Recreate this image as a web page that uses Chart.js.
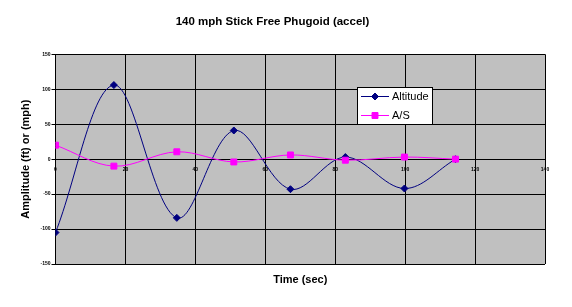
<!DOCTYPE html>
<html>
<head>
<meta charset="utf-8">
<title>140 mph Stick Free Phugoid (accel)</title>
<script src="https://cdn.jsdelivr.net/npm/chart.js"></script>
<style>
    body { margin: 0; background: #ffffff; }
    canvas { display: block; }
</style>
</head>
<body>
<canvas id="grafico" width="572" height="307"></canvas>
<script>
// dados
const timeSec = [0, 16.7, 34.7, 51, 67.2, 82.9, 99.8, 114.4];
const altitude = [-105, 106, -84, 41, -43, 3, -42, 0];
const airSpeed = [20, -10, 10.5, -4, 6, -1.5, 3, 0];
const seriesNames = ['Altitude', 'A/S'];
const xTicks = [0, 20, 40, 60, 80, 100, 120, 140];
const yTicks = [-150, -100, -50, 0, 50, 100, 150];

const fonte = 'Arial, "Liberation Sans", sans-serif';

function toPoints(xs, ys){
    return xs.map((x, i) => ({x: x, y: ys[i]}));
}

// fundo cinza da area do grafico
const plotBackground = {
    id: 'plotBackground',
    beforeDraw(chart){
        const {ctx, chartArea: a} = chart;
        ctx.save();
        ctx.fillStyle = '#c0c0c0';
        ctx.fillRect(a.left, a.top, a.right - a.left, a.bottom - a.top);
        ctx.restore();
    }
};

// legenda no estilo do excel (caixa branca com linha + marcador)
const excelLegend = {
    id: 'excelLegend',
    afterDatasetsDraw(chart){
        const ctx = chart.ctx;
        const bx = 357.5, by = 87.5, bw = 75, bh = 37;
        ctx.save();
        ctx.fillStyle = '#ffffff';
        ctx.fillRect(bx, by, bw, bh);
        ctx.strokeStyle = '#000000';
        ctx.lineWidth = 1;
        ctx.strokeRect(bx, by, bw, bh);
        chart.data.datasets.forEach((ds, i) => {
            const y = 96.5 + i * 19;
            ctx.strokeStyle = ds.borderColor;
            ctx.beginPath();
            ctx.moveTo(361, y);
            ctx.lineTo(389, y);
            ctx.stroke();
            ctx.fillStyle = ds.pointBackgroundColor;
            ctx.strokeStyle = ds.pointBorderColor;
            Chart.helpers.drawPoint(ctx, {
                pointStyle: ds.pointStyle,
                radius: ds.pointRadius,
                borderWidth: 1
            }, 375, y);
            ctx.fillStyle = '#000000';
            ctx.font = '11px ' + fonte;
            ctx.textBaseline = 'middle';
            ctx.textAlign = 'left';
            ctx.fillText(ds.label, 392, y);
        });
        ctx.restore();
    }
};

const ctxGrafico = document.getElementById('grafico');
let chart = new Chart(ctxGrafico, {
    type: 'line',
    data: {
        datasets: [
            {
                label: seriesNames[0],
                data: toPoints(timeSec, altitude),
                borderColor: '#000080',
                backgroundColor: '#000080',
                pointBackgroundColor: '#000080',
                pointBorderColor: '#000080',
                pointStyle: 'rectRot',
                pointRadius: 3.5,
                borderWidth: 1,
                tension: 0.35,
                order: 1,
                xAxisID: 'x',
                yAxisID: 'y'
            },
            {
                label: seriesNames[1],
                data: toPoints(timeSec, airSpeed),
                borderColor: '#ff00ff',
                backgroundColor: '#ff00ff',
                pointBackgroundColor: '#ff00ff',
                pointBorderColor: '#ff00ff',
                pointStyle: 'rect',
                pointRadius: 4.2,
                borderWidth: 1,
                tension: 0.35,
                order: 0,
                xAxisID: 'x',
                yAxisID: 'y'
            }
        ]
    },
    options: {
        responsive: false,
        animation: false,
        layout: {
            padding: {left: 0, right: 27, top: 0, bottom: 0}
        },
        plugins: {
            legend: { display: false },
            tooltip: { enabled: false },
            title: {
                display: true,
                text: '140 mph Stick Free Phugoid (accel)',
                color: '#000000',
                font: { family: fonte, size: 11.5, weight: 'bold' },
                padding: { top: 15, bottom: 25.5 }
            }
        },
        scales: {
            x: {
                type: 'linear',
                position: 'bottom',
                min: xTicks[0],
                max: xTicks[xTicks.length - 1],
                afterBuildTicks(scale){
                    scale.ticks = xTicks.map(v => ({value: v}));
                },
                ticks: { display: false },
                grid: { color: '#000000', lineWidth: 1, drawTicks: false },
                border: { display: false },
                title: {
                    display: true,
                    text: 'Time (sec)',
                    color: '#000000',
                    font: { family: fonte, size: 11, weight: 'bold' },
                    padding: { top: 0, bottom: 20.5 }
                },
                afterFit(scale){
                    scale.height = 43;
                }
            },
            // eixo x cruzando no zero, como no excel
            x2: {
                type: 'linear',
                position: { y: 0 },
                min: xTicks[0],
                max: xTicks[xTicks.length - 1],
                afterBuildTicks(scale){
                    scale.ticks = xTicks.map(v => ({value: v}));
                },
                ticks: {
                    color: '#000000',
                    font: { family: fonte, size: 5, weight: 'bold' },
                    padding: 7,
                    maxRotation: 0,
                    autoSkip: false
                },
                grid: { display: false, drawTicks: false },
                border: { display: false }
            },
            y: {
                type: 'linear',
                position: 'left',
                min: yTicks[0],
                max: yTicks[yTicks.length - 1],
                afterBuildTicks(scale){
                    scale.ticks = yTicks.map(v => ({value: v}));
                },
                ticks: {
                    color: '#000000',
                    font: { family: fonte, size: 5, weight: 'bold' },
                    padding: 1
                },
                grid: { color: '#000000', lineWidth: 1, tickLength: 4 },
                border: { color: '#000000' },
                title: {
                    display: true,
                    text: 'Amplitude (ft) or (mph)',
                    color: '#000000',
                    font: { family: fonte, size: 11, weight: 'bold' },
                    padding: { top: 19.5, bottom: 0 }
                },
                afterFit(scale){
                    scale.width = 55.5;
                }
            }
        }
    },
    plugins: [plotBackground, excelLegend]
});
</script>
</body>
</html>
